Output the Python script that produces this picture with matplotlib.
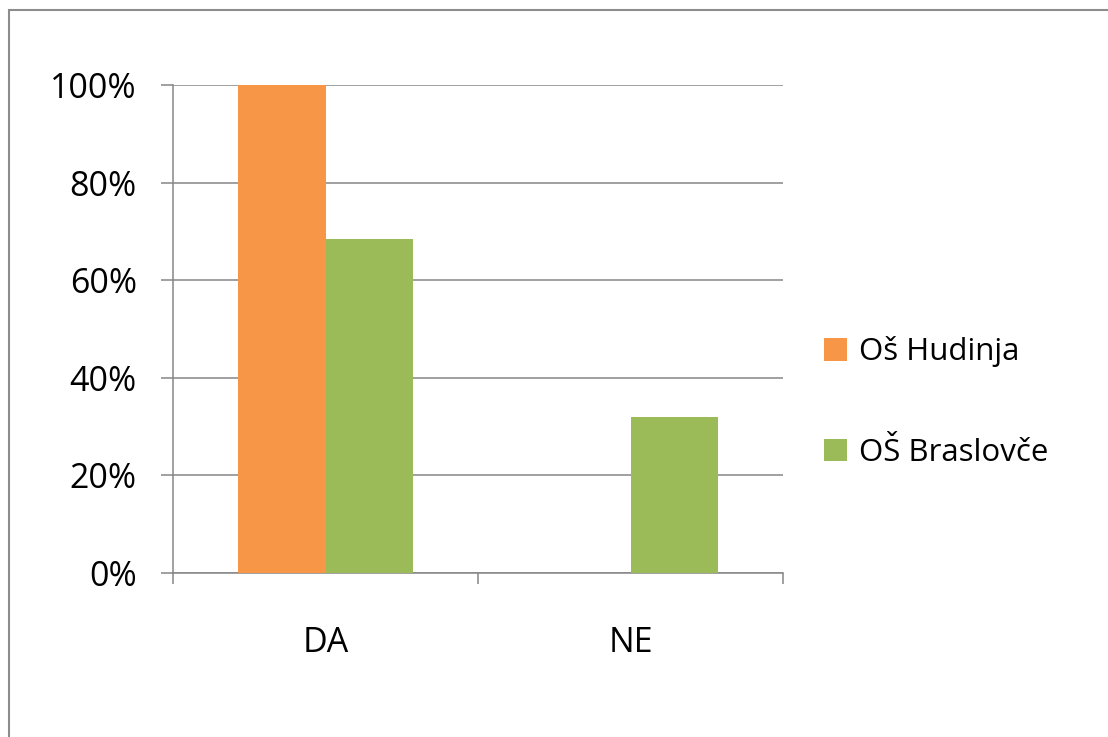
import numpy as np
import matplotlib.pyplot as plt
from matplotlib.patches import Rectangle

categories = ['DA', 'NE']
series_names = ['Oš Hudinja', 'OŠ Braslovče']
hudinja = [1.00, 0.0]
braslovce = [0.684, 0.32]
colors = ['#F79646', '#9BBB59']
yticks = [0, 0.2, 0.4, 0.6, 0.8, 1.0]

plt.rcParams['font.family'] = ['Open Sans', 'DejaVu Sans']

fig = plt.figure(figsize=(11.08, 7.37), dpi=100)
ax = fig.add_axes([173 / 1108, 1 - 573 / 737, 610 / 1108, 488 / 737])

x = np.arange(len(categories))
w = 0.288
ax.bar(x - w / 2, hudinja, w, color=colors[0], label=series_names[0], zorder=3)
ax.bar(x + w / 2, braslovce, w, color=colors[1], label=series_names[1], zorder=3)

ax.set_xlim(-0.5, len(categories) - 0.5)
ax.set_ylim(0, 1)
ax.set_yticks(yticks)
ax.set_yticklabels([f'{int(round(v * 100))}%' for v in yticks])
ax.yaxis.grid(True, color='#868686', linewidth=1.1, zorder=0)

# category boundaries get the tick marks, centres get the labels
ax.set_xticks(np.arange(len(categories) + 1) - 0.5)
ax.set_xticklabels([])
ax.set_xticks(x, minor=True)
ax.set_xticklabels(categories, minor=True)
ax.tick_params(axis='x', which='major', length=8, width=1.1, color='#868686', direction='out')
ax.tick_params(axis='x', which='minor', length=0, pad=38, labelsize=24.5)
ax.tick_params(axis='y', length=9, width=1.1, color='#868686', pad=17, labelsize=24.5)

for s in ['top', 'right']:
    ax.spines[s].set_visible(False)
for s in ['left', 'bottom']:
    ax.spines[s].set_color('#868686')
    ax.spines[s].set_linewidth(1.1)

fig.legend(loc='center left', bbox_to_anchor=(796 / 1108, 1 - 402 / 737),
           frameon=False, fontsize=22.5, handlelength=0.72, handleheight=0.72,
           handletextpad=0.4, labelspacing=2.25)

fig.patches.append(Rectangle((9 / 1108, -0.05), 1.1, 1.05 - 10 / 737,
                             transform=fig.transFigure, fill=False,
                             edgecolor='#8c8c8c', linewidth=1.5))

fig.savefig('out.png', dpi=100)
